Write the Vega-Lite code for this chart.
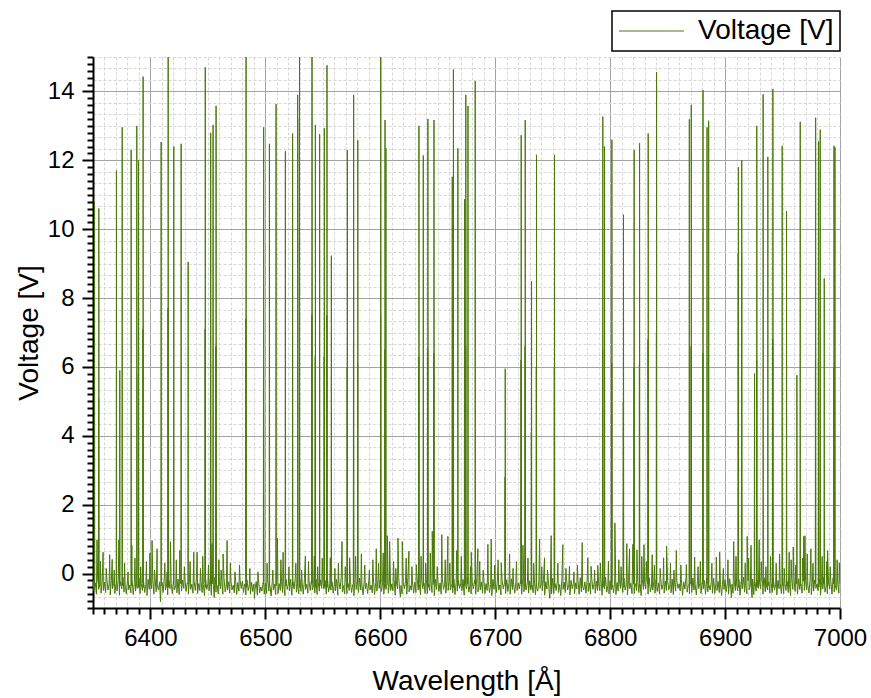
{
"$schema":"https://vega.github.io/schema/vega-lite/v6.json",
"width":747,"height":551,
"autosize":{"type":"none"},
"padding":{"left":93,"top":57,"right":31,"bottom":90},
"background":"white",
"config":{"view":{"stroke":null},"font":"Liberation Sans","legend":{"strokeWidth":1.5}},
"data":{"values":[
{"w":6350,"v":-0.18},{"w":6351,"v":-0.52},{"w":6352,"v":-0.27},{"w":6353,"v":-0.60},{"w":6354,"v":-0.15},{"w":6355,"v":-0.46},{"w":6356,"v":-0.31},{"w":6357,"v":-0.57},{"w":6358,"v":-0.22},{"w":6359,"v":-0.49},
{"w":6360,"v":-0.25},{"w":6361,"v":-0.55},{"w":6362,"v":-0.13},{"w":6363,"v":-0.48},{"w":6364,"v":-0.33},{"w":6365,"v":-0.62},{"w":6366,"v":-0.20},{"w":6367,"v":-0.44},{"w":6368,"v":-0.28},{"w":6369,"v":-0.58},
{"w":6370,"v":-0.30},{"w":6371,"v":-0.50},{"w":6372,"v":-0.17},{"w":6373,"v":-0.63},{"w":6374,"v":-0.24},{"w":6375,"v":-0.45},{"w":6376,"v":-0.11},{"w":6377,"v":-0.54},{"w":6378,"v":-0.35},{"w":6379,"v":-0.59},
{"w":6380,"v":-0.21},{"w":6381,"v":-0.47},{"w":6382,"v":-0.34},{"w":6383,"v":-0.56},{"w":6384,"v":-0.16},{"w":6385,"v":-0.61},{"w":6386,"v":-0.26},{"w":6387,"v":-0.51},{"w":6388,"v":-0.19},{"w":6389,"v":-0.43},
{"w":6390,"v":-0.14},{"w":6391,"v":-0.58},{"w":6392,"v":-0.29},{"w":6393,"v":-0.49},{"w":6394,"v":-0.23},{"w":6395,"v":-0.55},{"w":6396,"v":-0.32},{"w":6397,"v":-0.64},{"w":6398,"v":-0.17},{"w":6399,"v":-0.46},
{"w":6400,"v":-0.27},{"w":6401,"v":-0.44},{"w":6402,"v":-0.20},{"w":6403,"v":-0.60},{"w":6404,"v":-0.12},{"w":6405,"v":-0.53},{"w":6406,"v":-0.36},{"w":6407,"v":-0.48},{"w":6408,"v":-0.24},{"w":6409,"v":-0.57},
{"w":6410,"v":-0.25},{"w":6411,"v":-0.55},{"w":6412,"v":-0.13},{"w":6413,"v":-0.48},{"w":6414,"v":-0.33},{"w":6415,"v":-0.62},{"w":6416,"v":-0.20},{"w":6417,"v":-0.44},{"w":6418,"v":-0.28},{"w":6419,"v":-0.58},
{"w":6420,"v":-0.21},{"w":6421,"v":-0.47},{"w":6422,"v":-0.34},{"w":6423,"v":-0.56},{"w":6424,"v":-0.16},{"w":6425,"v":-0.61},{"w":6426,"v":-0.26},{"w":6427,"v":-0.51},{"w":6428,"v":-0.19},{"w":6429,"v":-0.43},
{"w":6430,"v":-0.18},{"w":6431,"v":-0.52},{"w":6432,"v":-0.27},{"w":6433,"v":-0.60},{"w":6434,"v":-0.15},{"w":6435,"v":-0.46},{"w":6436,"v":-0.31},{"w":6437,"v":-0.57},{"w":6438,"v":-0.22},{"w":6439,"v":-0.49},
{"w":6440,"v":-0.14},{"w":6441,"v":-0.58},{"w":6442,"v":-0.29},{"w":6443,"v":-0.49},{"w":6444,"v":-0.23},{"w":6445,"v":-0.55},{"w":6446,"v":-0.32},{"w":6447,"v":-0.64},{"w":6448,"v":-0.17},{"w":6449,"v":-0.46},
{"w":6450,"v":-0.30},{"w":6451,"v":-0.50},{"w":6452,"v":-0.17},{"w":6453,"v":-0.63},{"w":6454,"v":-0.24},{"w":6455,"v":-0.45},{"w":6456,"v":-0.11},{"w":6457,"v":-0.54},{"w":6458,"v":-0.35},{"w":6459,"v":-0.59},
{"w":6460,"v":-0.27},{"w":6461,"v":-0.44},{"w":6462,"v":-0.20},{"w":6463,"v":-0.60},{"w":6464,"v":-0.12},{"w":6465,"v":-0.53},{"w":6466,"v":-0.36},{"w":6467,"v":-0.48},{"w":6468,"v":-0.24},{"w":6469,"v":-0.57},
{"w":6470,"v":-0.21},{"w":6471,"v":-0.47},{"w":6472,"v":-0.34},{"w":6473,"v":-0.56},{"w":6474,"v":-0.16},{"w":6475,"v":-0.61},{"w":6476,"v":-0.26},{"w":6477,"v":-0.51},{"w":6478,"v":-0.19},{"w":6479,"v":-0.43},
{"w":6480,"v":-0.22},{"w":6481,"v":-0.55},{"w":6482,"v":-0.30},{"w":6483,"v":-0.62},{"w":6484,"v":-0.18},{"w":6485,"v":-0.49},{"w":6486,"v":-0.34},{"w":6487,"v":-0.60},{"w":6488,"v":-0.25},{"w":6489,"v":-0.52},
{"w":6490,"v":-0.30},{"w":6491,"v":-0.47},{"w":6492,"v":-0.23},{"w":6493,"v":-0.63},{"w":6494,"v":-0.15},{"w":6495,"v":-0.56},{"w":6496,"v":-0.39},{"w":6497,"v":-0.51},{"w":6498,"v":-0.27},{"w":6499,"v":-0.60},
{"w":6500,"v":-0.28},{"w":6501,"v":-0.58},{"w":6502,"v":-0.16},{"w":6503,"v":-0.51},{"w":6504,"v":-0.36},{"w":6505,"v":-0.65},{"w":6506,"v":-0.23},{"w":6507,"v":-0.47},{"w":6508,"v":-0.31},{"w":6509,"v":-0.61},
{"w":6510,"v":-0.14},{"w":6511,"v":-0.58},{"w":6512,"v":-0.29},{"w":6513,"v":-0.49},{"w":6514,"v":-0.23},{"w":6515,"v":-0.55},{"w":6516,"v":-0.32},{"w":6517,"v":-0.64},{"w":6518,"v":-0.17},{"w":6519,"v":-0.46},
{"w":6520,"v":-0.30},{"w":6521,"v":-0.50},{"w":6522,"v":-0.17},{"w":6523,"v":-0.63},{"w":6524,"v":-0.24},{"w":6525,"v":-0.45},{"w":6526,"v":-0.11},{"w":6527,"v":-0.54},{"w":6528,"v":-0.35},{"w":6529,"v":-0.59},
{"w":6530,"v":-0.18},{"w":6531,"v":-0.52},{"w":6532,"v":-0.27},{"w":6533,"v":-0.60},{"w":6534,"v":-0.15},{"w":6535,"v":-0.46},{"w":6536,"v":-0.31},{"w":6537,"v":-0.57},{"w":6538,"v":-0.22},{"w":6539,"v":-0.49},
{"w":6540,"v":-0.21},{"w":6541,"v":-0.47},{"w":6542,"v":-0.34},{"w":6543,"v":-0.56},{"w":6544,"v":-0.16},{"w":6545,"v":-0.61},{"w":6546,"v":-0.26},{"w":6547,"v":-0.51},{"w":6548,"v":-0.19},{"w":6549,"v":-0.43},
{"w":6550,"v":-0.27},{"w":6551,"v":-0.44},{"w":6552,"v":-0.20},{"w":6553,"v":-0.60},{"w":6554,"v":-0.12},{"w":6555,"v":-0.53},{"w":6556,"v":-0.36},{"w":6557,"v":-0.48},{"w":6558,"v":-0.24},{"w":6559,"v":-0.57},
{"w":6560,"v":-0.30},{"w":6561,"v":-0.50},{"w":6562,"v":-0.17},{"w":6563,"v":-0.63},{"w":6564,"v":-0.24},{"w":6565,"v":-0.45},{"w":6566,"v":-0.11},{"w":6567,"v":-0.54},{"w":6568,"v":-0.35},{"w":6569,"v":-0.59},
{"w":6570,"v":-0.14},{"w":6571,"v":-0.58},{"w":6572,"v":-0.29},{"w":6573,"v":-0.49},{"w":6574,"v":-0.23},{"w":6575,"v":-0.55},{"w":6576,"v":-0.32},{"w":6577,"v":-0.64},{"w":6578,"v":-0.17},{"w":6579,"v":-0.46},
{"w":6580,"v":-0.25},{"w":6581,"v":-0.55},{"w":6582,"v":-0.13},{"w":6583,"v":-0.48},{"w":6584,"v":-0.33},{"w":6585,"v":-0.62},{"w":6586,"v":-0.20},{"w":6587,"v":-0.44},{"w":6588,"v":-0.28},{"w":6589,"v":-0.58},
{"w":6590,"v":-0.21},{"w":6591,"v":-0.47},{"w":6592,"v":-0.34},{"w":6593,"v":-0.56},{"w":6594,"v":-0.16},{"w":6595,"v":-0.61},{"w":6596,"v":-0.26},{"w":6597,"v":-0.51},{"w":6598,"v":-0.19},{"w":6599,"v":-0.43},
{"w":6600,"v":-0.18},{"w":6601,"v":-0.52},{"w":6602,"v":-0.27},{"w":6603,"v":-0.60},{"w":6604,"v":-0.15},{"w":6605,"v":-0.46},{"w":6606,"v":-0.31},{"w":6607,"v":-0.57},{"w":6608,"v":-0.22},{"w":6609,"v":-0.49},
{"w":6610,"v":-0.30},{"w":6611,"v":-0.50},{"w":6612,"v":-0.17},{"w":6613,"v":-0.63},{"w":6614,"v":-0.24},{"w":6615,"v":-0.45},{"w":6616,"v":-0.11},{"w":6617,"v":-0.54},{"w":6618,"v":-0.35},{"w":6619,"v":-0.59},
{"w":6620,"v":-0.27},{"w":6621,"v":-0.44},{"w":6622,"v":-0.20},{"w":6623,"v":-0.60},{"w":6624,"v":-0.12},{"w":6625,"v":-0.53},{"w":6626,"v":-0.36},{"w":6627,"v":-0.48},{"w":6628,"v":-0.24},{"w":6629,"v":-0.57},
{"w":6630,"v":-0.25},{"w":6631,"v":-0.55},{"w":6632,"v":-0.13},{"w":6633,"v":-0.48},{"w":6634,"v":-0.33},{"w":6635,"v":-0.62},{"w":6636,"v":-0.20},{"w":6637,"v":-0.44},{"w":6638,"v":-0.28},{"w":6639,"v":-0.58},
{"w":6640,"v":-0.14},{"w":6641,"v":-0.58},{"w":6642,"v":-0.29},{"w":6643,"v":-0.49},{"w":6644,"v":-0.23},{"w":6645,"v":-0.55},{"w":6646,"v":-0.32},{"w":6647,"v":-0.64},{"w":6648,"v":-0.17},{"w":6649,"v":-0.46},
{"w":6650,"v":-0.18},{"w":6651,"v":-0.52},{"w":6652,"v":-0.27},{"w":6653,"v":-0.60},{"w":6654,"v":-0.15},{"w":6655,"v":-0.46},{"w":6656,"v":-0.31},{"w":6657,"v":-0.57},{"w":6658,"v":-0.22},{"w":6659,"v":-0.49},
{"w":6660,"v":-0.21},{"w":6661,"v":-0.47},{"w":6662,"v":-0.34},{"w":6663,"v":-0.56},{"w":6664,"v":-0.16},{"w":6665,"v":-0.61},{"w":6666,"v":-0.26},{"w":6667,"v":-0.51},{"w":6668,"v":-0.19},{"w":6669,"v":-0.43},
{"w":6670,"v":-0.30},{"w":6671,"v":-0.50},{"w":6672,"v":-0.17},{"w":6673,"v":-0.63},{"w":6674,"v":-0.24},{"w":6675,"v":-0.45},{"w":6676,"v":-0.11},{"w":6677,"v":-0.54},{"w":6678,"v":-0.35},{"w":6679,"v":-0.59},
{"w":6680,"v":-0.27},{"w":6681,"v":-0.44},{"w":6682,"v":-0.20},{"w":6683,"v":-0.60},{"w":6684,"v":-0.12},{"w":6685,"v":-0.53},{"w":6686,"v":-0.36},{"w":6687,"v":-0.48},{"w":6688,"v":-0.24},{"w":6689,"v":-0.57},
{"w":6690,"v":-0.14},{"w":6691,"v":-0.58},{"w":6692,"v":-0.29},{"w":6693,"v":-0.49},{"w":6694,"v":-0.23},{"w":6695,"v":-0.55},{"w":6696,"v":-0.32},{"w":6697,"v":-0.64},{"w":6698,"v":-0.17},{"w":6699,"v":-0.46},
{"w":6700,"v":-0.25},{"w":6701,"v":-0.55},{"w":6702,"v":-0.13},{"w":6703,"v":-0.48},{"w":6704,"v":-0.33},{"w":6705,"v":-0.62},{"w":6706,"v":-0.20},{"w":6707,"v":-0.44},{"w":6708,"v":-0.28},{"w":6709,"v":-0.58},
{"w":6710,"v":-0.18},{"w":6711,"v":-0.52},{"w":6712,"v":-0.27},{"w":6713,"v":-0.60},{"w":6714,"v":-0.15},{"w":6715,"v":-0.46},{"w":6716,"v":-0.31},{"w":6717,"v":-0.57},{"w":6718,"v":-0.22},{"w":6719,"v":-0.49},
{"w":6720,"v":-0.27},{"w":6721,"v":-0.44},{"w":6722,"v":-0.20},{"w":6723,"v":-0.60},{"w":6724,"v":-0.12},{"w":6725,"v":-0.53},{"w":6726,"v":-0.36},{"w":6727,"v":-0.48},{"w":6728,"v":-0.24},{"w":6729,"v":-0.57},
{"w":6730,"v":-0.21},{"w":6731,"v":-0.47},{"w":6732,"v":-0.34},{"w":6733,"v":-0.56},{"w":6734,"v":-0.16},{"w":6735,"v":-0.61},{"w":6736,"v":-0.26},{"w":6737,"v":-0.51},{"w":6738,"v":-0.19},{"w":6739,"v":-0.43},
{"w":6740,"v":-0.30},{"w":6741,"v":-0.50},{"w":6742,"v":-0.17},{"w":6743,"v":-0.63},{"w":6744,"v":-0.24},{"w":6745,"v":-0.45},{"w":6746,"v":-0.11},{"w":6747,"v":-0.54},{"w":6748,"v":-0.35},{"w":6749,"v":-0.59},
{"w":6750,"v":-0.14},{"w":6751,"v":-0.58},{"w":6752,"v":-0.29},{"w":6753,"v":-0.49},{"w":6754,"v":-0.23},{"w":6755,"v":-0.55},{"w":6756,"v":-0.32},{"w":6757,"v":-0.64},{"w":6758,"v":-0.17},{"w":6759,"v":-0.46},
{"w":6760,"v":-0.25},{"w":6761,"v":-0.55},{"w":6762,"v":-0.13},{"w":6763,"v":-0.48},{"w":6764,"v":-0.33},{"w":6765,"v":-0.62},{"w":6766,"v":-0.20},{"w":6767,"v":-0.44},{"w":6768,"v":-0.28},{"w":6769,"v":-0.58},
{"w":6770,"v":-0.27},{"w":6771,"v":-0.44},{"w":6772,"v":-0.20},{"w":6773,"v":-0.60},{"w":6774,"v":-0.12},{"w":6775,"v":-0.53},{"w":6776,"v":-0.36},{"w":6777,"v":-0.48},{"w":6778,"v":-0.24},{"w":6779,"v":-0.57},
{"w":6780,"v":-0.18},{"w":6781,"v":-0.52},{"w":6782,"v":-0.27},{"w":6783,"v":-0.60},{"w":6784,"v":-0.15},{"w":6785,"v":-0.46},{"w":6786,"v":-0.31},{"w":6787,"v":-0.57},{"w":6788,"v":-0.22},{"w":6789,"v":-0.49},
{"w":6790,"v":-0.30},{"w":6791,"v":-0.50},{"w":6792,"v":-0.17},{"w":6793,"v":-0.63},{"w":6794,"v":-0.24},{"w":6795,"v":-0.45},{"w":6796,"v":-0.11},{"w":6797,"v":-0.54},{"w":6798,"v":-0.35},{"w":6799,"v":-0.59},
{"w":6800,"v":-0.21},{"w":6801,"v":-0.47},{"w":6802,"v":-0.34},{"w":6803,"v":-0.56},{"w":6804,"v":-0.16},{"w":6805,"v":-0.61},{"w":6806,"v":-0.26},{"w":6807,"v":-0.51},{"w":6808,"v":-0.19},{"w":6809,"v":-0.43},
{"w":6810,"v":-0.25},{"w":6811,"v":-0.55},{"w":6812,"v":-0.13},{"w":6813,"v":-0.48},{"w":6814,"v":-0.33},{"w":6815,"v":-0.62},{"w":6816,"v":-0.20},{"w":6817,"v":-0.44},{"w":6818,"v":-0.28},{"w":6819,"v":-0.58},
{"w":6820,"v":-0.14},{"w":6821,"v":-0.58},{"w":6822,"v":-0.29},{"w":6823,"v":-0.49},{"w":6824,"v":-0.23},{"w":6825,"v":-0.55},{"w":6826,"v":-0.32},{"w":6827,"v":-0.64},{"w":6828,"v":-0.17},{"w":6829,"v":-0.46},
{"w":6830,"v":-0.27},{"w":6831,"v":-0.44},{"w":6832,"v":-0.20},{"w":6833,"v":-0.60},{"w":6834,"v":-0.12},{"w":6835,"v":-0.53},{"w":6836,"v":-0.36},{"w":6837,"v":-0.48},{"w":6838,"v":-0.24},{"w":6839,"v":-0.57},
{"w":6840,"v":-0.18},{"w":6841,"v":-0.52},{"w":6842,"v":-0.27},{"w":6843,"v":-0.60},{"w":6844,"v":-0.15},{"w":6845,"v":-0.46},{"w":6846,"v":-0.31},{"w":6847,"v":-0.57},{"w":6848,"v":-0.22},{"w":6849,"v":-0.49},
{"w":6850,"v":-0.21},{"w":6851,"v":-0.47},{"w":6852,"v":-0.34},{"w":6853,"v":-0.56},{"w":6854,"v":-0.16},{"w":6855,"v":-0.61},{"w":6856,"v":-0.26},{"w":6857,"v":-0.51},{"w":6858,"v":-0.19},{"w":6859,"v":-0.43},
{"w":6860,"v":-0.30},{"w":6861,"v":-0.50},{"w":6862,"v":-0.17},{"w":6863,"v":-0.63},{"w":6864,"v":-0.24},{"w":6865,"v":-0.45},{"w":6866,"v":-0.11},{"w":6867,"v":-0.54},{"w":6868,"v":-0.35},{"w":6869,"v":-0.59},
{"w":6870,"v":-0.25},{"w":6871,"v":-0.55},{"w":6872,"v":-0.13},{"w":6873,"v":-0.48},{"w":6874,"v":-0.33},{"w":6875,"v":-0.62},{"w":6876,"v":-0.20},{"w":6877,"v":-0.44},{"w":6878,"v":-0.28},{"w":6879,"v":-0.58},
{"w":6880,"v":-0.27},{"w":6881,"v":-0.44},{"w":6882,"v":-0.20},{"w":6883,"v":-0.60},{"w":6884,"v":-0.12},{"w":6885,"v":-0.53},{"w":6886,"v":-0.36},{"w":6887,"v":-0.48},{"w":6888,"v":-0.24},{"w":6889,"v":-0.57},
{"w":6890,"v":-0.14},{"w":6891,"v":-0.58},{"w":6892,"v":-0.29},{"w":6893,"v":-0.49},{"w":6894,"v":-0.23},{"w":6895,"v":-0.55},{"w":6896,"v":-0.32},{"w":6897,"v":-0.64},{"w":6898,"v":-0.17},{"w":6899,"v":-0.46},
{"w":6900,"v":-0.18},{"w":6901,"v":-0.52},{"w":6902,"v":-0.27},{"w":6903,"v":-0.60},{"w":6904,"v":-0.15},{"w":6905,"v":-0.46},{"w":6906,"v":-0.31},{"w":6907,"v":-0.57},{"w":6908,"v":-0.22},{"w":6909,"v":-0.49},
{"w":6910,"v":-0.30},{"w":6911,"v":-0.50},{"w":6912,"v":-0.17},{"w":6913,"v":-0.63},{"w":6914,"v":-0.24},{"w":6915,"v":-0.45},{"w":6916,"v":-0.11},{"w":6917,"v":-0.54},{"w":6918,"v":-0.35},{"w":6919,"v":-0.59},
{"w":6920,"v":-0.21},{"w":6921,"v":-0.47},{"w":6922,"v":-0.34},{"w":6923,"v":-0.56},{"w":6924,"v":-0.16},{"w":6925,"v":-0.61},{"w":6926,"v":-0.26},{"w":6927,"v":-0.51},{"w":6928,"v":-0.19},{"w":6929,"v":-0.43},
{"w":6930,"v":-0.27},{"w":6931,"v":-0.44},{"w":6932,"v":-0.20},{"w":6933,"v":-0.60},{"w":6934,"v":-0.12},{"w":6935,"v":-0.53},{"w":6936,"v":-0.36},{"w":6937,"v":-0.48},{"w":6938,"v":-0.24},{"w":6939,"v":-0.57},
{"w":6940,"v":-0.25},{"w":6941,"v":-0.55},{"w":6942,"v":-0.13},{"w":6943,"v":-0.48},{"w":6944,"v":-0.33},{"w":6945,"v":-0.62},{"w":6946,"v":-0.20},{"w":6947,"v":-0.44},{"w":6948,"v":-0.28},{"w":6949,"v":-0.58},
{"w":6950,"v":-0.14},{"w":6951,"v":-0.58},{"w":6952,"v":-0.29},{"w":6953,"v":-0.49},{"w":6954,"v":-0.23},{"w":6955,"v":-0.55},{"w":6956,"v":-0.32},{"w":6957,"v":-0.64},{"w":6958,"v":-0.17},{"w":6959,"v":-0.46},
{"w":6960,"v":-0.18},{"w":6961,"v":-0.52},{"w":6962,"v":-0.27},{"w":6963,"v":-0.60},{"w":6964,"v":-0.15},{"w":6965,"v":-0.46},{"w":6966,"v":-0.31},{"w":6967,"v":-0.57},{"w":6968,"v":-0.22},{"w":6969,"v":-0.49},
{"w":6970,"v":-0.21},{"w":6971,"v":-0.47},{"w":6972,"v":-0.34},{"w":6973,"v":-0.56},{"w":6974,"v":-0.16},{"w":6975,"v":-0.61},{"w":6976,"v":-0.26},{"w":6977,"v":-0.51},{"w":6978,"v":-0.19},{"w":6979,"v":-0.43},
{"w":6980,"v":-0.30},{"w":6981,"v":-0.50},{"w":6982,"v":-0.17},{"w":6983,"v":-0.63},{"w":6984,"v":-0.24},{"w":6985,"v":-0.45},{"w":6986,"v":-0.11},{"w":6987,"v":-0.54},{"w":6988,"v":-0.35},{"w":6989,"v":-0.59},
{"w":6990,"v":-0.27},{"w":6991,"v":-0.44},{"w":6992,"v":-0.20},{"w":6993,"v":-0.60},{"w":6994,"v":-0.12},{"w":6995,"v":-0.53},{"w":6996,"v":-0.36},{"w":6997,"v":-0.48},{"w":6998,"v":-0.24},{"w":6999,"v":-0.57},
{"w":7000,"v":-0.30},
{"w":6408.7,"v":-0.82},{"w":6455.5,"v":-0.70},{"w":6490.5,"v":-0.72},{"w":6617.5,"v":-0.68},{"w":6747.5,"v":-0.72},{"w":6905.5,"v":-0.70},{"w":6923.5,"v":-0.70},
{"w":6353.5,"v":0.98},{"w":6358.8,"v":0.62},{"w":6366.7,"v":0.41},{"w":6372.5,"v":0.98},{"w":6383.8,"v":0.82},{"w":6401.4,"v":0.96},{"w":6405.8,"v":0.72},{"w":6417.4,"v":0.93},{"w":6425.5,"v":0.67},{"w":6437.7,"v":0.62},{"w":6440.6,"v":0.62},{"w":6453.6,"v":0.87},{"w":6463.2,"v":0.57},{"w":6466.7,"v":0.96},{"w":6510.5,"v":1.03},{"w":6515.4,"v":0.62},{"w":6534.8,"v":0.51},{"w":6542.6,"v":0.51},{"w":6556.5,"v":0.46},
{"w":6566.7,"v":0.93},{"w":6573.3,"v":0.46},{"w":6583.5,"v":0.57},{"w":6596.5,"v":0.72},{"w":6606.1,"v":1.1},{"w":6608.1,"v":0.93},{"w":6615.4,"v":1.03},{"w":6619.1,"v":0.93},{"w":6624.9,"v":0.65},{"w":6631.3,"v":0.26},{"w":6645.2,"v":1.23},{"w":6653.5,"v":1.13},{"w":6658.8,"v":1.08},{"w":6666.5,"v":0.67},{"w":6679.1,"v":0.62},{"w":6684.9,"v":0.72},{"w":6693.6,"v":0.85},{"w":6696.5,"v":1.0},{"w":6705.2,"v":0.31},{"w":6712.5,"v":0.57},{"w":6724.1,"v":0.82},{"w":6738.6,"v":1.0},{"w":6742.9,"v":0.46},{"w":6748.7,"v":1.1},{"w":6758.8,"v":0.84},{"w":6764.6,"v":0.21},{"w":6775.7,"v":0.9},{"w":6780.6,"v":0.46},
{"w":6783.4,"v":0.21},{"w":6789.2,"v":0.24},{"w":6798.5,"v":0.36},{"w":6804.1,"v":1.47},{"w":6814.5,"v":0.87},{"w":6816.9,"v":0.72},{"w":6819.8,"v":0.85},{"w":6823.3,"v":0.69},{"w":6829.4,"v":0.84},{"w":6836.6,"v":0.55},{"w":6846.5,"v":0.46},{"w":6849.1,"v":0.8},{"w":6857.6,"v":0.67},{"w":6866.3,"v":0.26},{"w":6873.5,"v":0.48},{"w":6892.4,"v":0.48},{"w":6895.3,"v":0.62},{"w":6907.5,"v":0.93},{"w":6919.2,"v":1.08},{"w":6922.6,"v":0.82},{"w":6929.7,"v":0.98},{"w":6947.4,"v":0.57},{"w":6955.8,"v":0.62},{"w":6959.3,"v":0.77},{"w":6968.5,"v":1.08},{"w":6969.5,"v":1.1},{"w":6971.5,"v":0.57},{"w":6974.7,"v":0.72},{"w":6989.2,"v":0.67},{"w":6999.4,"v":0.31},
{"w":6356.5,"v":0.35},{"w":6361.5,"v":0.15},{"w":6364.5,"v":0.55},{"w":6368.5,"v":0.1},{"w":6377.5,"v":0.3},{"w":6380.5,"v":0.05},{"w":6386.5,"v":0.45},{"w":6391.5,"v":0.2},{"w":6396.5,"v":0.35},{"w":6399.5,"v":0.6},{"w":6403.5,"v":0.1},{"w":6412.5,"v":0.3},{"w":6414.5,"v":0.05},{"w":6422.5,"v":0.4},{"w":6429.5,"v":0.2},{"w":6434.5,"v":0.35},{"w":6443.5,"v":0.15},{"w":6445.5,"v":0.5},{"w":6450.5,"v":0.25},{"w":6459.5,"v":0.4},{"w":6461.5,"v":0.1},{"w":6469.5,"v":0.3},{"w":6473.5,"v":0.05},{"w":6477.5,"v":0.25},{"w":6486.5,"v":0.15},{"w":6493.5,"v":0.05},
{"w":6501.5,"v":0.3},{"w":6506.5,"v":0.1},{"w":6513.5,"v":0.4},{"w":6520.5,"v":0.2},{"w":6526.5,"v":0.3},{"w":6531.5,"v":0.1},{"w":6537.5,"v":0.35},{"w":6545.5,"v":0.2},{"w":6549.5,"v":0.45},{"w":6560.5,"v":0.15},{"w":6563.5,"v":0.3},{"w":6569.5,"v":0.2},{"w":6578.5,"v":0.5},{"w":6586.5,"v":0.25},{"w":6590.5,"v":0.1},{"w":6593.5,"v":0.4},{"w":6598.5,"v":0.3},
{"w":6602.5,"v":0.6},{"w":6611.5,"v":0.35},{"w":6613.5,"v":0.15},{"w":6622.5,"v":0.45},{"w":6627.5,"v":0.2},{"w":6635.5,"v":0.5},{"w":6639.5,"v":0.3},{"w":6643.5,"v":0.6},{"w":6649.5,"v":0.2},{"w":6656.5,"v":0.4},{"w":6660.5,"v":0.3},{"w":6670.5,"v":0.5},{"w":6678.5,"v":0.2},{"w":6686.5,"v":0.35},{"w":6689.5,"v":0.1},{"w":6699.5,"v":0.25},
{"w":6702.5,"v":0.4},{"w":6715.5,"v":0.15},{"w":6718.5,"v":0.35},{"w":6728.5,"v":0.45},{"w":6733.5,"v":0.3},{"w":6740.5,"v":0.2},{"w":6745.5,"v":0.1},{"w":6754.5,"v":0.3},{"w":6761.5,"v":0.15},{"w":6768.5,"v":0.05},{"w":6771.5,"v":0.25},{"w":6786.5,"v":0.1},{"w":6791.5,"v":0.3},
{"w":6807.5,"v":0.4},{"w":6809.5,"v":0.2},{"w":6827.5,"v":0.5},{"w":6831.5,"v":0.35},{"w":6838.5,"v":0.25},{"w":6843.5,"v":0.15},{"w":6852.5,"v":0.3},{"w":6855.5,"v":0.1},{"w":6861.5,"v":0.25},{"w":6876.5,"v":0.2},{"w":6878.5,"v":0.35},{"w":6888.5,"v":0.3},{"w":6898.5,"v":0.15},
{"w":6902.5,"v":0.4},{"w":6909.5,"v":0.5},{"w":6917.5,"v":0.3},{"w":6920.5,"v":0.45},{"w":6931.5,"v":0.35},{"w":6935.5,"v":0.2},{"w":6939.5,"v":0.5},{"w":6944.5,"v":0.3},{"w":6951.5,"v":0.15},{"w":6957.5,"v":0.4},{"w":6961.5,"v":0.25},{"w":6967.5,"v":0.45},{"w":6976.5,"v":0.3},{"w":6984.5,"v":0.5},{"w":6988.5,"v":0.35},{"w":6991.5,"v":0.2},{"w":6997.5,"v":0.4},
{"w":6351.1,"v":-0.3},{"w":6351.3,"v":10.8},{"w":6351.5,"v":-0.35},
{"w":6354.7,"v":-0.3},{"w":6354.85,"v":5.1},{"w":6354.95,"v":-0.25},{"w":6355.05,"v":10.6},{"w":6355.2,"v":-0.4},
{"w":6370.2,"v":-0.3},{"w":6370.4,"v":11.7},{"w":6370.6,"v":-0.35},
{"w":6373.1,"v":-0.3},{"w":6373.3,"v":5.9},{"w":6373.5,"v":-0.35},
{"w":6375.2,"v":-0.3},{"w":6375.4,"v":12.96},{"w":6375.6,"v":-0.35},
{"w":6383.05,"v":-0.3},{"w":6383.2,"v":12.3},{"w":6383.4,"v":-0.35},
{"w":6387.9,"v":-0.3},{"w":6388.1,"v":13.0},{"w":6388.3,"v":-0.35},
{"w":6389.3,"v":-0.3},{"w":6389.45,"v":5.8},{"w":6389.55,"v":-0.25},{"w":6389.6,"v":12.0},{"w":6389.8,"v":-0.4},
{"w":6393.3,"v":-0.3},{"w":6393.45,"v":7.1},{"w":6393.55,"v":-0.25},{"w":6393.6,"v":14.43},{"w":6393.8,"v":-0.4},
{"w":6409.1,"v":-0.3},{"w":6409.3,"v":12.53},{"w":6409.5,"v":-0.35},
{"w":6415.1,"v":-0.3},{"w":6415.25,"v":7.7},{"w":6415.35,"v":-0.25},{"w":6415.4,"v":15.3},{"w":6415.6,"v":-0.4},
{"w":6420.1,"v":-0.3},{"w":6420.3,"v":12.4},{"w":6420.5,"v":-0.35},
{"w":6426.5,"v":-0.3},{"w":6426.7,"v":12.48},{"w":6426.9,"v":-0.35},
{"w":6432.6,"v":-0.3},{"w":6432.8,"v":9.05},{"w":6432.95,"v":-0.35},
{"w":6447.4,"v":-0.3},{"w":6447.55,"v":7.1},{"w":6447.65,"v":-0.25},{"w":6447.7,"v":14.7},{"w":6447.9,"v":-0.4},
{"w":6452.1,"v":-0.3},{"w":6452.25,"v":6.2},{"w":6452.35,"v":-0.25},{"w":6452.4,"v":12.8},{"w":6452.6,"v":-0.4},
{"w":6454.3,"v":-0.3},{"w":6454.5,"v":13.03},{"w":6454.7,"v":-0.35},
{"w":6456.8,"v":-0.3},{"w":6456.95,"v":6.6},{"w":6457.05,"v":-0.25},{"w":6457.1,"v":13.58},{"w":6457.3,"v":-0.4},
{"w":6482.9,"v":-0.3},{"w":6483.05,"v":7.4},{"w":6483.15,"v":-0.25},{"w":6483.2,"v":15.3},{"w":6483.4,"v":-0.4},
{"w":6498.2,"v":-0.3},{"w":6498.35,"v":5.8},{"w":6498.45,"v":-0.25},{"w":6498.5,"v":12.96},{"w":6498.7,"v":-0.4},
{"w":6503.3,"v":-0.3},{"w":6503.5,"v":12.48},{"w":6503.7,"v":-0.35},
{"w":6509.1,"v":-0.3},{"w":6509.3,"v":13.63},{"w":6509.5,"v":-0.35},
{"w":6517.2,"v":-0.3},{"w":6517.4,"v":12.26},{"w":6517.6,"v":-0.35},
{"w":6523.5,"v":-0.3},{"w":6523.7,"v":12.78},{"w":6523.9,"v":-0.35},
{"w":6527.9,"v":-0.3},{"w":6528.1,"v":13.9},{"w":6528.3,"v":-0.35},
{"w":6529.4,"v":-0.3},{"w":6529.55,"v":13.2},{"w":6529.65,"v":-0.25},{"w":6529.7,"v":15.3},{"w":6529.9,"v":-0.4},
{"w":6540.3,"v":-0.3},{"w":6540.45,"v":7.5},{"w":6540.55,"v":-0.25},{"w":6540.6,"v":15.3},{"w":6540.8,"v":-0.4},
{"w":6543.2,"v":-0.3},{"w":6543.35,"v":6.3},{"w":6543.45,"v":-0.25},{"w":6543.5,"v":13.03},{"w":6543.7,"v":-0.4},
{"w":6547.05,"v":-0.3},{"w":6547.2,"v":12.76},{"w":6547.4,"v":-0.35},
{"w":6551.05,"v":-0.3},{"w":6551.15,"v":6.3},{"w":6551.25,"v":-0.25},{"w":6551.3,"v":12.93},{"w":6551.5,"v":-0.4},
{"w":6553.3,"v":-0.3},{"w":6553.45,"v":7.5},{"w":6553.55,"v":-0.25},{"w":6553.6,"v":14.76},{"w":6553.8,"v":-0.4},
{"w":6557.2,"v":-0.3},{"w":6557.4,"v":9.23},{"w":6557.6,"v":-0.35},
{"w":6571.05,"v":-0.3},{"w":6571.15,"v":6.0},{"w":6571.25,"v":-0.25},{"w":6571.3,"v":12.3},{"w":6571.5,"v":-0.4},
{"w":6576.5,"v":-0.3},{"w":6576.65,"v":6.7},{"w":6576.75,"v":-0.25},{"w":6576.8,"v":13.9},{"w":6576.95,"v":-0.4},
{"w":6580.1,"v":-0.3},{"w":6580.25,"v":6.1},{"w":6580.35,"v":-0.25},{"w":6580.4,"v":12.58},{"w":6580.6,"v":-0.4},
{"w":6600.1,"v":-0.3},{"w":6600.25,"v":7.5},{"w":6600.35,"v":-0.25},{"w":6600.4,"v":15.3},{"w":6600.6,"v":-0.4},
{"w":6603.8,"v":-0.3},{"w":6603.95,"v":6.5},{"w":6604.05,"v":-0.25},{"w":6604.1,"v":13.17},{"w":6604.3,"v":-0.4},
{"w":6604.7,"v":-0.3},{"w":6604.9,"v":12.35},{"w":6605.1,"v":-0.35},
{"w":6633.3,"v":-0.3},{"w":6633.45,"v":6.3},{"w":6633.55,"v":-0.25},{"w":6633.6,"v":13.0},{"w":6633.8,"v":-0.4},
{"w":6637.2,"v":-0.3},{"w":6637.4,"v":12.14},{"w":6637.6,"v":-0.35},
{"w":6641.1,"v":-0.3},{"w":6641.25,"v":6.5},{"w":6641.35,"v":-0.25},{"w":6641.4,"v":13.2},{"w":6641.6,"v":-0.4},
{"w":6646.4,"v":-0.3},{"w":6646.55,"v":6.4},{"w":6646.65,"v":-0.25},{"w":6646.7,"v":13.17},{"w":6646.9,"v":-0.4},
{"w":6662.4,"v":-0.3},{"w":6662.6,"v":11.52},{"w":6662.8,"v":-0.35},
{"w":6663.3,"v":-0.3},{"w":6663.45,"v":7.1},{"w":6663.55,"v":-0.25},{"w":6663.6,"v":14.64},{"w":6663.8,"v":-0.4},
{"w":6667.3,"v":-0.3},{"w":6667.5,"v":12.35},{"w":6667.7,"v":-0.35},
{"w":6673.1,"v":-0.3},{"w":6673.3,"v":10.87},{"w":6673.5,"v":-0.35},
{"w":6674.1,"v":-0.3},{"w":6674.25,"v":6.6},{"w":6674.35,"v":-0.25},{"w":6674.4,"v":13.9},{"w":6674.6,"v":-0.4},
{"w":6676.1,"v":-0.3},{"w":6676.3,"v":13.58},{"w":6676.5,"v":-0.35},
{"w":6682.4,"v":-0.3},{"w":6682.6,"v":14.3},{"w":6682.8,"v":-0.35},
{"w":6708.4,"v":-0.3},{"w":6708.55,"v":2.8},{"w":6708.65,"v":-0.25},{"w":6708.7,"v":5.95},{"w":6708.9,"v":-0.4},
{"w":6722.3,"v":-0.3},{"w":6722.45,"v":6.2},{"w":6722.55,"v":-0.25},{"w":6722.6,"v":12.73},{"w":6722.8,"v":-0.4},
{"w":6725.8,"v":-0.3},{"w":6725.95,"v":6.6},{"w":6726.05,"v":-0.25},{"w":6726.1,"v":13.17},{"w":6726.3,"v":-0.4},
{"w":6731.3,"v":-0.3},{"w":6731.45,"v":4.1},{"w":6731.55,"v":-0.25},{"w":6731.6,"v":8.49},{"w":6731.8,"v":-0.4},
{"w":6735.6,"v":-0.3},{"w":6735.75,"v":6.0},{"w":6735.85,"v":-0.25},{"w":6735.9,"v":12.16},{"w":6736.1,"v":-0.4},
{"w":6751.3,"v":-0.3},{"w":6751.45,"v":6.0},{"w":6751.55,"v":-0.25},{"w":6751.6,"v":12.16},{"w":6751.8,"v":-0.4},
{"w":6793.3,"v":-0.3},{"w":6793.45,"v":6.5},{"w":6793.55,"v":-0.25},{"w":6793.6,"v":13.27},{"w":6793.8,"v":-0.4},
{"w":6794.9,"v":-0.3},{"w":6795.1,"v":12.4},{"w":6795.3,"v":-0.35},
{"w":6801.2,"v":-0.3},{"w":6801.35,"v":6.1},{"w":6801.45,"v":-0.25},{"w":6801.5,"v":12.6},{"w":6801.7,"v":-0.4},
{"w":6811.3,"v":-0.3},{"w":6811.45,"v":5.0},{"w":6811.55,"v":-0.25},{"w":6811.6,"v":10.42},{"w":6811.8,"v":-0.4},
{"w":6820.6,"v":-0.3},{"w":6820.75,"v":6.0},{"w":6820.85,"v":-0.25},{"w":6820.9,"v":12.3},{"w":6821.1,"v":-0.4},
{"w":6825.3,"v":-0.3},{"w":6825.45,"v":6.1},{"w":6825.55,"v":-0.25},{"w":6825.6,"v":12.5},{"w":6825.8,"v":-0.4},
{"w":6832.8,"v":-0.3},{"w":6832.95,"v":6.8},{"w":6833.05,"v":-0.25},{"w":6833.1,"v":12.78},{"w":6833.3,"v":-0.4},
{"w":6840.1,"v":-0.3},{"w":6840.25,"v":7.0},{"w":6840.35,"v":-0.25},{"w":6840.4,"v":14.56},{"w":6840.6,"v":-0.4},
{"w":6868.7,"v":-0.3},{"w":6868.9,"v":13.19},{"w":6869.1,"v":-0.35},
{"w":6870.3,"v":-0.3},{"w":6870.45,"v":6.6},{"w":6870.55,"v":-0.25},{"w":6870.6,"v":13.61},{"w":6870.8,"v":-0.4},
{"w":6880.5,"v":-0.3},{"w":6880.65,"v":6.4},{"w":6880.75,"v":-0.25},{"w":6880.8,"v":14.04},{"w":6880.95,"v":-0.4},
{"w":6884.1,"v":-0.3},{"w":6884.3,"v":12.96},{"w":6884.5,"v":-0.35},
{"w":6885.4,"v":-0.3},{"w":6885.55,"v":6.3},{"w":6885.65,"v":-0.25},{"w":6885.7,"v":13.15},{"w":6885.9,"v":-0.4},
{"w":6911.3,"v":-0.3},{"w":6911.45,"v":9.3},{"w":6911.55,"v":-0.25},{"w":6911.6,"v":11.8},{"w":6911.8,"v":-0.4},
{"w":6914.2,"v":-0.3},{"w":6914.35,"v":9.3},{"w":6914.45,"v":-0.25},{"w":6914.5,"v":12.0},{"w":6914.7,"v":-0.4},
{"w":6925.4,"v":-0.3},{"w":6925.6,"v":5.81},{"w":6925.8,"v":-0.35},
{"w":6927.3,"v":-0.3},{"w":6927.45,"v":6.2},{"w":6927.55,"v":-0.25},{"w":6927.6,"v":13.0},{"w":6927.8,"v":-0.4},
{"w":6932.9,"v":-0.3},{"w":6933.1,"v":13.92},{"w":6933.3,"v":-0.35},
{"w":6937.05,"v":-0.3},{"w":6937.2,"v":12.1},{"w":6937.4,"v":-0.35},
{"w":6941.3,"v":-0.3},{"w":6941.45,"v":6.8},{"w":6941.55,"v":-0.25},{"w":6941.6,"v":14.07},{"w":6941.8,"v":-0.4},
{"w":6949.5,"v":-0.3},{"w":6949.7,"v":12.42},{"w":6949.9,"v":-0.35},
{"w":6953.3,"v":-0.3},{"w":6953.5,"v":10.52},{"w":6953.7,"v":-0.35},
{"w":6962.3,"v":-0.3},{"w":6962.5,"v":5.76},{"w":6962.7,"v":-0.35},
{"w":6965.2,"v":-0.3},{"w":6965.4,"v":13.12},{"w":6965.6,"v":-0.35},
{"w":6978.5,"v":-0.3},{"w":6978.65,"v":6.2},{"w":6978.75,"v":-0.25},{"w":6978.8,"v":13.24},{"w":6978.95,"v":-0.4},
{"w":6981.1,"v":-0.3},{"w":6981.25,"v":6.2},{"w":6981.35,"v":-0.25},{"w":6981.4,"v":12.55},{"w":6981.6,"v":-0.4},
{"w":6982.6,"v":-0.3},{"w":6982.8,"v":12.89},{"w":6982.95,"v":-0.35},
{"w":6986.1,"v":-0.3},{"w":6986.3,"v":8.57},{"w":6986.5,"v":-0.35},
{"w":6994.5,"v":-0.3},{"w":6994.65,"v":6.0},{"w":6994.75,"v":-0.25},{"w":6994.8,"v":12.42},{"w":6994.95,"v":-0.4},
{"w":6995.4,"v":-0.3},{"w":6995.6,"v":12.38},{"w":6995.8,"v":-0.35}
]},
"mark":{"type":"line","strokeWidth":1,"clip":true,"interpolate":"linear"},
"encoding":{
"x":{"field":"w","type":"quantitative","sort":"ascending","scale":{"domain":[6350,7000],"nice":false,"zero":false},
 "axis":{"title":"Wavelength [Å]","titleFontSize":28,"titleFontWeight":"normal","titleColor":"black","titleFont":"Liberation Sans","titlePadding":17,
 "values":[6350,6360,6370,6380,6390,6400,6410,6420,6430,6440,6450,6460,6470,6480,6490,6500,6510,6520,6530,6540,6550,6560,6570,6580,6590,6600,6610,6620,6630,6640,6650,6660,6670,6680,6690,6700,6710,6720,6730,6740,6750,6760,6770,6780,6790,6800,6810,6820,6830,6840,6850,6860,6870,6880,6890,6900,6910,6920,6930,6940,6950,6960,6970,6980,6990,7000],
 "labelExpr":"datum.value % 100 === 0 ? format(datum.value, 'd') : ''",
 "labelFontSize":24,"labelColor":"black","labelFont":"Liberation Sans","labelPadding":7,"labelOverlap":false,"labelBound":false,"labelFlush":false,
 "domainColor":"black","domainWidth":2,"tickColor":"black","tickWidth":2,
 "tickSize":{"condition":{"test":"datum.value % 100 === 0","value":11},"value":6},
 "grid":true,
 "gridColor":{"condition":{"test":"datum.value % 100 === 0","value":"#a3a3a3"},"value":"#d6d6d6"},
 "gridDash":{"condition":{"test":"datum.value % 100 === 0","value":[]},"value":[3,2]},
 "gridWidth":1}},
"y":{"field":"v","type":"quantitative","scale":{"domain":[-1,15],"nice":false,"zero":false},
 "axis":{"title":"Voltage [V]","titleFontSize":28,"titleFontWeight":"normal","titleColor":"black","titleFont":"Liberation Sans","titlePadding":4,
 "values":[-1,-0.8,-0.6,-0.4,-0.2,0,0.2,0.4,0.6,0.8,1,1.2,1.4,1.6,1.8,2,2.2,2.4,2.6,2.8,3,3.2,3.4,3.6,3.8,4,4.2,4.4,4.6,4.8,5,5.2,5.4,5.6,5.8,6,6.2,6.4,6.6,6.8,7,7.2,7.4,7.6,7.8,8,8.2,8.4,8.6,8.8,9,9.2,9.4,9.6,9.8,10,10.2,10.4,10.6,10.8,11,11.2,11.4,11.6,11.8,12,12.2,12.4,12.6,12.8,13,13.2,13.4,13.6,13.8,14,14.2,14.4,14.6,14.8,15,
 -0.6667,-0.3333,0.3333,0.6667,1.3333,1.6667,2.3333,2.6667,3.3333,3.6667,4.3333,4.6667,5.3333,5.6667,6.3333,6.6667,7.3333,7.6667,8.3333,8.6667,9.3333,9.6667,10.3333,10.6667,11.3333,11.6667,12.3333,12.6667,13.3333,13.6667,14.3333,14.6667],
 "labelExpr":"abs(datum.value/2 - round(datum.value/2)) < 0.001 && datum.value >= 0 ? format(datum.value, 'd') : ''",
 "labelFontSize":24,"labelColor":"black","labelFont":"Liberation Sans","labelPadding":8,"labelOverlap":false,"labelBound":false,"labelFlush":false,
 "domainColor":"black","domainWidth":2,"tickColor":"black","tickWidth":2,
 "tickOpacity":{"condition":{"test":"abs(datum.value*5 - round(datum.value*5)) < 0.01","value":1},"value":0},
 "tickSize":{"condition":{"test":"abs(datum.value/2 - round(datum.value/2)) < 0.001","value":11},"value":6},
 "grid":true,
 "gridOpacity":{"condition":{"test":"abs(datum.value*3 - round(datum.value*3)) < 0.01","value":1},"value":0},
 "gridColor":{"condition":{"test":"abs(datum.value/2 - round(datum.value/2)) < 0.001","value":"#a3a3a3"},"value":"#d6d6d6"},
 "gridDash":{"condition":{"test":"abs(datum.value/2 - round(datum.value/2)) < 0.001","value":[]},"value":[3,2]},
 "gridWidth":1}},
"color":{"datum":"Voltage [V]","type":"nominal","scale":{"range":["#4a790a"]},
 "legend":{"title":null,"orient":"none","legendX":519,"legendY":-46,"symbolType":"M-1.3,0H5.2","symbolSize":400,"symbolStrokeWidth":1,"labelFontSize":28,"labelFont":"Liberation Sans","labelColor":"black","labelOffset":52,"labelLimit":300,"strokeColor":"black","fillColor":"white","padding":6}}
}
}
